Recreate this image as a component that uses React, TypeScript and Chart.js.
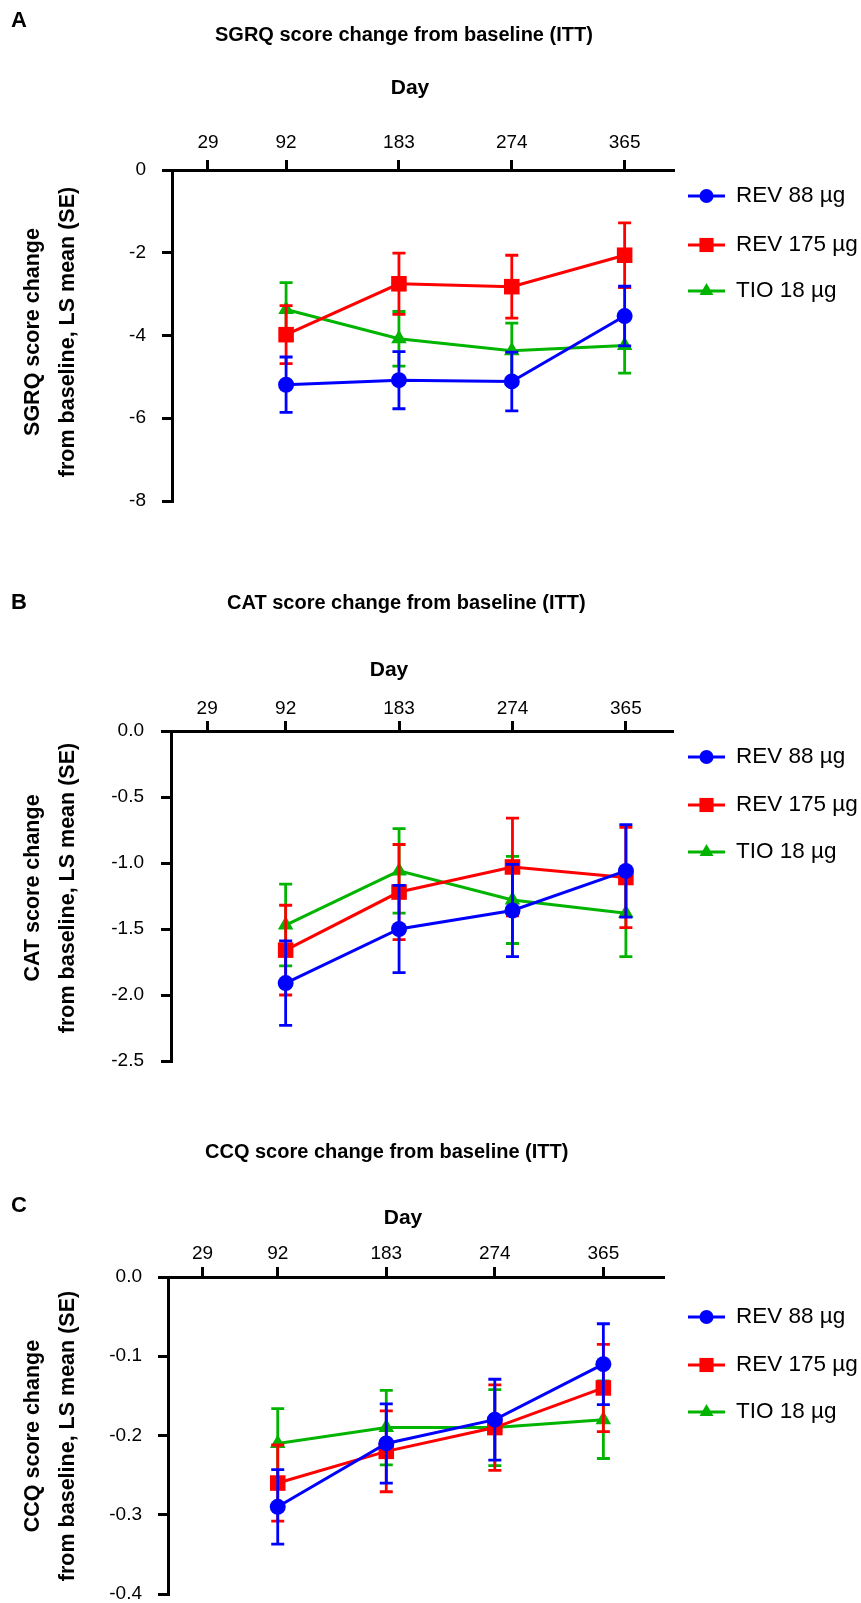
import React, { useEffect, useRef } from 'react';
import { Chart, registerables } from 'chart.js';

Chart.register(...registerables);

// ---------------- data ----------------
const days = [92, 183, 274, 365];
const dayTicks = [29, 92, 183, 274, 365];
const seriesNames = ['REV 88 µg', 'REV 175 µg', 'TIO 18 µg'];

const sgrqRev88 = [-5.19, -5.08, -5.11, -3.53];
const sgrqRev88SE = [0.67, 0.69, 0.71, 0.72];
const sgrqRev175 = [-3.98, -2.75, -2.82, -2.06];
const sgrqRev175SE = [0.7, 0.74, 0.76, 0.78];
const sgrqTio18 = [-3.37, -4.08, -4.37, -4.24];
const sgrqTio18SE = [0.65, 0.66, 0.67, 0.67];
const sgrqYTicks = [-8, -6, -4, -2, 0];

const catRev88 = [-1.91, -1.5, -1.36, -1.06];
const catRev88SE = [0.32, 0.33, 0.35, 0.35];
const catRev175 = [-1.66, -1.22, -1.03, -1.11];
const catRev175SE = [0.34, 0.36, 0.37, 0.38];
const catTio18 = [-1.47, -1.06, -1.28, -1.38];
const catTio18SE = [0.31, 0.32, 0.33, 0.33];
const catYTicks = [-2.5, -2, -1.5, -1, -0.5, 0];

const ccqRev88 = [-0.29, -0.21, -0.18, -0.11];
const ccqRev88SE = [0.047, 0.05, 0.051, 0.051];
const ccqRev175 = [-0.26, -0.22, -0.19, -0.14];
const ccqRev175SE = [0.048, 0.051, 0.054, 0.055];
const ccqTio18 = [-0.21, -0.19, -0.19, -0.18];
const ccqTio18SE = [0.044, 0.047, 0.048, 0.049];
const ccqYTicks = [-0.4, -0.3, -0.2, -0.1, 0];

// ---------------- styles ----------------
const FONT = '"Liberation Sans", Arial, Helvetica, sans-serif';
const COLORS = ['#0000ff', '#ff0000', '#00b400'];
const POINT_STYLES = ['circle', 'rect', 'triangle'];
const POINT_RADII = [8, 11, 9];

type PanelSpec = {
  letter: string;
  title: string;
  yTitle: string[];
  means: number[][];
  ses: number[][];
  yTicks: number[];
  decimals: number;
  dayMax: number;
  top: number;
  height: number;
  area: { l: number; r: number; t: number; b: number };
  letterY: number;
  titleX: number;
  titleY: number;
  dayX: number;
  dayY: number;
  yTitleY: number;
  legendY: number[];
  xPad: number;
  yPad: number;
};

const panels: PanelSpec[] = [
  {
    letter: 'A',
    title: 'SGRQ score change from baseline (ITT)',
    yTitle: ['SGRQ score change', 'from baseline, LS mean (SE)'],
    means: [sgrqRev88, sgrqRev175, sgrqTio18],
    ses: [sgrqRev88SE, sgrqRev175SE, sgrqTio18SE],
    yTicks: sgrqYTicks,
    decimals: 0,
    dayMax: 404,
    top: 0,
    height: 555,
    area: { l: 172, r: 673, t: 170, b: 501 },
    letterY: 21,
    titleX: 215,
    titleY: 35,
    dayX: 410,
    dayY: 88,
    yTitleY: 332,
    legendY: [196, 245, 291],
    xPad: 6,
    yPad: 16,
  },
  {
    letter: 'B',
    title: 'CAT score change from baseline (ITT)',
    yTitle: ['CAT score change', 'from baseline, LS mean (SE)'],
    means: [catRev88, catRev175, catTio18],
    ses: [catRev88SE, catRev175SE, catTio18SE],
    yTicks: catYTicks,
    decimals: 1,
    dayMax: 402,
    top: 555,
    height: 545,
    area: { l: 171, r: 672, t: 731, b: 1061 },
    letterY: 603,
    titleX: 227,
    titleY: 603,
    dayX: 389,
    dayY: 670,
    yTitleY: 888,
    legendY: [757, 805, 852],
    xPad: 1,
    yPad: 17,
  },
  {
    letter: 'C',
    title: 'CCQ score change from baseline (ITT)',
    yTitle: ['CCQ score change', 'from baseline, LS mean (SE)'],
    means: [ccqRev88, ccqRev175, ccqTio18],
    ses: [ccqRev88SE, ccqRev175SE, ccqTio18SE],
    yTicks: ccqYTicks,
    decimals: 1,
    dayMax: 415,
    top: 1100,
    height: 503,
    area: { l: 168, r: 663, t: 1277, b: 1594 },
    letterY: 1206,
    titleX: 205,
    titleY: 1152,
    dayX: 403,
    dayY: 1218,
    yTitleY: 1436,
    legendY: [1317, 1365, 1412],
    xPad: 2,
    yPad: 16,
  },
];

function drawMarker(ctx: CanvasRenderingContext2D, style: string, x: number, y: number, r: number) {
  ctx.beginPath();
  if (style === 'circle') {
    ctx.arc(x, y, r, 0, Math.PI * 2);
  } else if (style === 'rect') {
    const s = Math.SQRT1_2 * r;
    ctx.rect(x - s, y - s, 2 * s, 2 * s);
  } else {
    let a = 0;
    ctx.moveTo(x + Math.sin(a) * r, y - Math.cos(a) * r);
    a += (2 * Math.PI) / 3;
    ctx.lineTo(x + Math.sin(a) * r, y - Math.cos(a) * r);
    a += (2 * Math.PI) / 3;
    ctx.lineTo(x + Math.sin(a) * r, y - Math.cos(a) * r);
    ctx.closePath();
  }
  ctx.fill();
}

function Panel({ spec }: { spec: PanelSpec }) {
  const ref = useRef<HTMLCanvasElement | null>(null);

  useEffect(() => {
    const canvas = ref.current;
    if (!canvas) return;
    const T = spec.top;

    const errorBars = {
      id: 'errorBars',
      beforeDatasetDraw(chart: any, args: any) {
        const ds: any = chart.data.datasets[args.index];
        const xs = chart.scales.x;
        const ys = chart.scales.y;
        const ctx = chart.ctx;
        ctx.save();
        ctx.strokeStyle = ds.borderColor;
        ctx.lineWidth = 2.8;
        ds.data.forEach((p: any, i: number) => {
          const se = ds.se[i];
          const px = xs.getPixelForValue(p.x);
          const pt = ys.getPixelForValue(p.y + se);
          const pb = ys.getPixelForValue(p.y - se);
          ctx.beginPath();
          ctx.moveTo(px, pt);
          ctx.lineTo(px, pb);
          ctx.moveTo(px - 6.5, pt);
          ctx.lineTo(px + 6.5, pt);
          ctx.moveTo(px - 6.5, pb);
          ctx.lineTo(px + 6.5, pb);
          ctx.stroke();
        });
        ctx.restore();
      },
    };

    const texts = {
      id: 'panelTexts',
      afterDraw(chart: any) {
        const ctx: CanvasRenderingContext2D = chart.ctx;
        ctx.save();
        ctx.fillStyle = '#000';
        ctx.textBaseline = 'middle';
        // panel letter
        ctx.font = `bold 22px ${FONT}`;
        ctx.textAlign = 'left';
        ctx.fillText(spec.letter, 11, spec.letterY - T);
        // title
        ctx.font = `bold 20px ${FONT}`;
        ctx.fillText(spec.title, spec.titleX, spec.titleY - T);
        // Day
        ctx.font = `bold 21px ${FONT}`;
        ctx.textAlign = 'center';
        ctx.fillText('Day', spec.dayX, spec.dayY - T);
        // y title (two rotated lines)
        [33, 68].forEach((x, k) => {
          ctx.save();
          ctx.font = `bold 21.5px ${FONT}`;
          ctx.translate(x, spec.yTitleY - T);
          ctx.rotate(-Math.PI / 2);
          ctx.fillText(spec.yTitle[k], 0, 0);
          ctx.restore();
        });
        // legend
        seriesNames.forEach((name, i) => {
          const y = spec.legendY[i] - T;
          ctx.strokeStyle = COLORS[i];
          ctx.fillStyle = COLORS[i];
          ctx.lineWidth = 3;
          ctx.beginPath();
          ctx.moveTo(688, y);
          ctx.lineTo(725, y);
          ctx.stroke();
          drawMarker(ctx, POINT_STYLES[i], 706.5, y, POINT_RADII[i] - 1);
          ctx.fillStyle = '#000';
          ctx.font = `22.5px ${FONT}`;
          ctx.textAlign = 'left';
          ctx.fillText(name, 736, y);
        });
        ctx.restore();
      },
    };

    const datasets = seriesNames.map((name, i) => ({
      label: name,
      data: days.map((d, k) => ({ x: d, y: spec.means[i][k] })),
      se: spec.ses[i],
      borderColor: COLORS[i],
      backgroundColor: COLORS[i],
      borderWidth: 3,
      pointStyle: POINT_STYLES[i],
      pointRadius: POINT_RADII[i],
      pointHoverRadius: POINT_RADII[i],
      pointBorderWidth: 0,
      pointBackgroundColor: COLORS[i],
      pointBorderColor: COLORS[i],
      tension: 0,
      fill: false,
      clip: false,
    }));

    const axisGrid = {
      display: true,
      drawOnChartArea: false,
      drawTicks: true,
      tickLength: 10,
      tickWidth: 3,
      tickColor: '#000',
      color: '#000',
      lineWidth: 3,
    };

    const chart = new Chart(canvas, {
      type: 'line',
      data: { datasets: datasets as any },
      options: {
        animation: false,
        responsive: false,
        devicePixelRatio: 1,
        events: [],
        layout: {
          autoPadding: false,
          padding: { left: 0, top: 0, right: 861 - spec.area.r, bottom: spec.top + spec.height - spec.area.b },
        },
        plugins: {
          legend: { display: false },
          title: { display: false },
          tooltip: { enabled: false },
        },
        scales: {
          x: {
            type: 'linear',
            position: 'top',
            min: 0,
            max: spec.dayMax,
            afterBuildTicks: (s: any) => {
              s.ticks = dayTicks.map((v) => ({ value: v }));
            },
            afterFit: (s: any) => {
              s.height = spec.area.t - T;
              s.paddingLeft = 0;
              s.paddingRight = 0;
            },
            ticks: {
              color: '#000',
              font: { family: FONT, size: 19 },
              padding: spec.xPad,
              autoSkip: false,
              maxRotation: 0,
              callback: (v: any) => String(v),
            },
            grid: axisGrid,
            border: { display: true, color: '#000', width: 3 },
          },
          y: {
            type: 'linear',
            position: 'left',
            min: spec.yTicks[0],
            max: spec.yTicks[spec.yTicks.length - 1],
            afterBuildTicks: (s: any) => {
              s.ticks = spec.yTicks.map((v) => ({ value: v }));
            },
            afterFit: (s: any) => {
              s.width = spec.area.l;
              s.paddingTop = 0;
              s.paddingBottom = 0;
            },
            ticks: {
              color: '#000',
              font: { family: FONT, size: 19 },
              padding: spec.yPad,
              autoSkip: false,
              callback: (v: any) => (spec.decimals ? Number(v).toFixed(spec.decimals) : String(Number(v))),
            },
            grid: axisGrid,
            border: { display: true, color: '#000', width: 3 },
          },
        },
      } as any,
      plugins: [errorBars, texts],
    });

    return () => {
      chart.destroy();
    };
  }, [spec]);

  return (
    <canvas
      ref={ref}
      width={861}
      height={spec.height}
      style={{ position: 'absolute', left: 0, top: spec.top, width: 861, height: spec.height, display: 'block' }}
    />
  );
}

export default function App() {
  return (
    <div
      style={{
        position: 'absolute',
        left: 0,
        top: 0,
        width: 861,
        height: 1603,
        overflow: 'hidden',
        background: '#fff',
      }}
    >
      {panels.map((p) => (
        <Panel key={p.letter} spec={p} />
      ))}
    </div>
  );
}
